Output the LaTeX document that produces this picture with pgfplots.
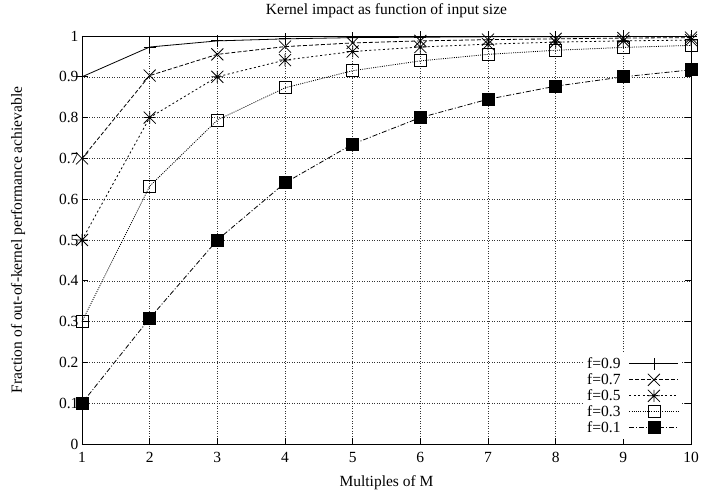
\documentclass[border=0pt]{standalone}
\usepackage{fontspec}
\setmainfont{Liberation Serif}
\usepackage{pgfplots}
\pgfplotsset{compat=1.18}

% gnuplot-like point types
\pgfdeclareplotmark{gpplus}{%
  \pgfpathmoveto{\pgfqpoint{-\pgfplotmarksize}{0pt}}\pgfpathlineto{\pgfqpoint{\pgfplotmarksize}{0pt}}%
  \pgfpathmoveto{\pgfqpoint{0pt}{-\pgfplotmarksize}}\pgfpathlineto{\pgfqpoint{0pt}{\pgfplotmarksize}}%
  \pgfusepathqstroke}
\pgfdeclareplotmark{gpx}{%
  \pgfpathmoveto{\pgfqpoint{-\pgfplotmarksize}{-\pgfplotmarksize}}\pgfpathlineto{\pgfqpoint{\pgfplotmarksize}{\pgfplotmarksize}}%
  \pgfpathmoveto{\pgfqpoint{-\pgfplotmarksize}{\pgfplotmarksize}}\pgfpathlineto{\pgfqpoint{\pgfplotmarksize}{-\pgfplotmarksize}}%
  \pgfusepathqstroke}
\pgfdeclareplotmark{gpstar}{%
  \pgfpathmoveto{\pgfqpoint{-\pgfplotmarksize}{0pt}}\pgfpathlineto{\pgfqpoint{\pgfplotmarksize}{0pt}}%
  \pgfpathmoveto{\pgfqpoint{0pt}{-\pgfplotmarksize}}\pgfpathlineto{\pgfqpoint{0pt}{\pgfplotmarksize}}%
  \pgfpathmoveto{\pgfqpoint{-\pgfplotmarksize}{-\pgfplotmarksize}}\pgfpathlineto{\pgfqpoint{\pgfplotmarksize}{\pgfplotmarksize}}%
  \pgfpathmoveto{\pgfqpoint{-\pgfplotmarksize}{\pgfplotmarksize}}\pgfpathlineto{\pgfqpoint{\pgfplotmarksize}{-\pgfplotmarksize}}%
  \pgfusepathqstroke}

\begin{document}
\begin{tikzpicture}
  \begin{axis}[
    name=ax,
    scale only axis,
    width=609bp, height=408bp,
    font=\fontsize{15.5bp}{18bp}\selectfont,
    xmin=1, xmax=10, ymin=0, ymax=1,
    xtick={1,...,10},
    ytick={0,0.1,...,1},
    /pgf/number format/.cd, fixed, precision=1, assume math mode=true,
    /pgfplots/.cd,
    xticklabel style={yshift=-5bp},
    tick align=inside,
    major tick length=6bp,
    grid=major,
    major grid style={black!80, line width=0.5bp, dash pattern=on 1bp off 1.5bp},
    axis line style={line width=0.9bp},
    every tick/.style={black, line width=0.8bp},
    title={Kernel impact as function of input size},
    title style={at={(axis description cs:0.5,1.047)}, anchor=center},
    xlabel={Multiples of M},
    xlabel style={at={(axis description cs:0.5,-0.094)}, anchor=center},
    ylabel={Fraction of out-of-kernel performance achievable},
    ylabel style={at={(axis description cs:-0.105,0.5)}, anchor=center},
    clip=false,
    every axis plot/.append style={black, line width=0.8bp, mark size=6bp, mark options={solid}},
    legend image code/.code={\draw[mark repeat=2,mark phase=2] plot coordinates {(0bp,0bp) (24.5bp,0bp) (49bp,0bp)};},
    legend plot pos=right,
    legend cell align=right,
    legend style={at={(1,0)}, anchor=south east, xshift=-9bp, yshift=5bp,
      draw=none, fill=white, inner sep=3bp, column sep=7bp, row sep=0pt,
      nodes={inner sep=1.5bp, text height=11bp, text depth=2bp}},
  ]
    \addplot[solid, mark=gpplus] coordinates {
      (1,0.9) (2,0.973) (3,0.988) (4,0.993) (5,0.996) (6,0.997) (7,0.998) (8,0.998) (9,0.999) (10,0.999)
    };
    \addplot[dash pattern=on 4bp off 2bp, mark=gpx] coordinates {
      (1,0.7) (2,0.903) (3,0.955) (4,0.974) (5,0.983) (6,0.988) (7,0.991) (8,0.993) (9,0.995) (10,0.996)
    };
    \addplot[dash pattern=on 2bp off 2.5bp, mark=gpstar] coordinates {
      (1,0.5) (2,0.8) (3,0.9) (4,0.941) (5,0.962) (6,0.973) (7,0.98) (8,0.985) (9,0.988) (10,0.99)
    };
    \addplot[dash pattern=on 1bp off 1.2bp, mark=square, mark options={solid, fill=white}] coordinates {
      (1,0.3) (2,0.632) (3,0.794) (4,0.873) (5,0.915) (6,0.939) (7,0.955) (8,0.965) (9,0.972) (10,0.977)
    };
    \addplot[dash pattern=on 5bp off 2bp on 1bp off 2bp, mark=square*, mark options={solid, fill=black}] coordinates {
      (1,0.1) (2,0.308) (3,0.5) (4,0.64) (5,0.735) (6,0.8) (7,0.845) (8,0.877) (9,0.9) (10,0.917)
    };
    \legend{f=0.9,f=0.7,f=0.5,f=0.3,f=0.1}
  \end{axis}
  \path ([shift={(-82bp,-52bp)}]ax.south west) rectangle ([shift={(12bp,36bp)}]ax.north east);
\end{tikzpicture}
\end{document}
